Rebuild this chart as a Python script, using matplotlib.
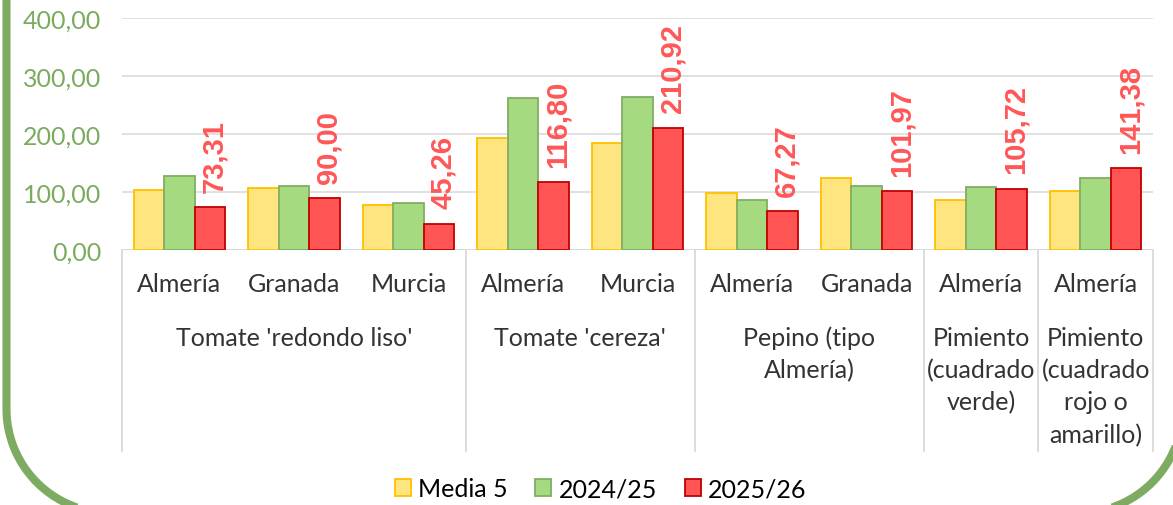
import matplotlib

matplotlib.use("Agg")
import matplotlib.pyplot as plt  # noqa: E402
import matplotlib.transforms as mtransforms  # noqa: E402
from matplotlib.lines import Line2D  # noqa: E402
from matplotlib.patches import Patch  # noqa: E402
import numpy as np  # noqa: E402

# --- data -----------------------------------------------------------------
regions = ["Almería", "Granada", "Murcia", "Almería", "Murcia",
           "Almería", "Granada", "Almería", "Almería"]
products = ["Tomate 'redondo liso'", "Tomate 'cereza'", "Pepino (tipo\nAlmería)",
            "Pimiento\n(cuadrado\nverde)", "Pimiento\n(cuadrado\nrojo o\namarillo)"]
product_sizes = [3, 2, 2, 1, 1]
series_names = ["Media 5", "2024/25", "2025/26"]
media5 = [103.4, 107.0, 78.0, 192.5, 184.0, 97.7, 125.0, 85.6, 102.0]
s2425 = [128.0, 110.0, 80.5, 262.0, 264.0, 85.6, 110.0, 109.0, 124.7]
s2526 = [73.31, 90.00, 45.26, 116.80, 210.92, 67.27, 101.97, 105.72, 141.38]
yticks = [0, 100, 200, 300, 400]

# --- style ----------------------------------------------------------------
FONT = ["Lato", "DejaVu Sans"]
fills = ["#FFE57F", "#A6DA80", "#FF5555"]
edges = ["#FFC000", "#82AD64", "#C00000"]
GRID = "#D9D9D9"
FRAME = "#7EAB62"
YLAB = "#7AAB5E"
TXT = "#333333"
W, H = 1173, 506

plt.rcParams["font.family"] = FONT
fig = plt.figure(figsize=(W / 100, H / 100), dpi=100)
ax = fig.add_axes([122 / W, 1 - 251 / H, (1153 - 122) / W, (251 - 19) / H])

x = np.arange(len(regions))
bw = 0.266
for i, vals in enumerate([media5, s2425, s2526]):
    ax.bar(x + (i - 1) * bw, vals, bw, color=fills[i], edgecolor=edges[i],
           linewidth=1.3, zorder=3, label=series_names[i])

for xi, v in zip(x + bw, s2526):
    ax.annotate(f"{v:.2f}".replace(".", ","), (xi, v), xytext=(3, 11),
                textcoords="offset points", rotation=90, ha="center", va="bottom",
                color="#FF5757", fontsize=21, fontweight="bold",
                family="Liberation Sans", zorder=4)

ax.set_xlim(-0.5, len(regions) - 0.5)
ax.set_ylim(0, 400)
ax.set_yticks(yticks)
ax.set_yticklabels([f"{t:.2f}".replace(".", ",") for t in yticks],
                   color=YLAB, fontsize=18)
ax.tick_params(axis="y", length=0, pad=15)
ax.set_xticks([])
ax.grid(axis="y", color=GRID, linewidth=1.1, zorder=0)
for s in ax.spines.values():
    s.set_visible(False)
ax.axhline(0, color=GRID, linewidth=1.3, zorder=2)

# multi-level category axis
tr = mtransforms.blended_transform_factory(ax.transData, fig.transFigure)
for xi, r in zip(x, regions):
    ax.text(xi, 1 - 285 / H, r, transform=tr, ha="center", va="center",
            fontsize=18, color=TXT)
bounds = np.concatenate([[0], np.cumsum(product_sizes)]) - 0.5
for b in bounds:
    ax.add_line(Line2D([b, b], [1 - 251 / H, 1 - 452 / H], transform=tr,
                       color=GRID, linewidth=1.3, clip_on=False))
for (b0, b1), name in zip(zip(bounds[:-1], bounds[1:]), products):
    for k, line in enumerate(name.split("\n")):
        ax.text((b0 + b1) / 2, 1 - (338 + 32.5 * k) / H, line, transform=tr,
                ha="center", va="center", fontsize=18, color=TXT)

handles = [Patch(facecolor=fills[i], edgecolor=edges[i], linewidth=1.3)
           for i in range(3)]
fig.legend(handles, series_names, loc="center", bbox_to_anchor=(0.512, 1 - 490 / H),
           ncol=3, frameon=False, fontsize=18, handlelength=0.64, handleheight=0.64,
           handletextpad=0.3, columnspacing=1.1)

# rounded green frame, drawn in pixel coordinates (origin bottom-left)
xl, xr, yb, r = 6.5, 1182.5, -8.0, 104.0
t1 = np.linspace(np.pi, 1.5 * np.pi, 40)
t2 = np.linspace(1.5 * np.pi, 2 * np.pi, 40)
fx = np.concatenate([[xl], xl + r + r * np.cos(t1), xr - r + r * np.cos(t2), [xr]])
fy = np.concatenate([[H + 50], yb + r + r * np.sin(t1), yb + r + r * np.sin(t2), [H + 50]])
fig.add_artist(Line2D(fx, fy, transform=mtransforms.IdentityTransform(),
                      color=FRAME, linewidth=5.8, solid_joinstyle="round"))

fig.savefig("out.png", dpi=100)
